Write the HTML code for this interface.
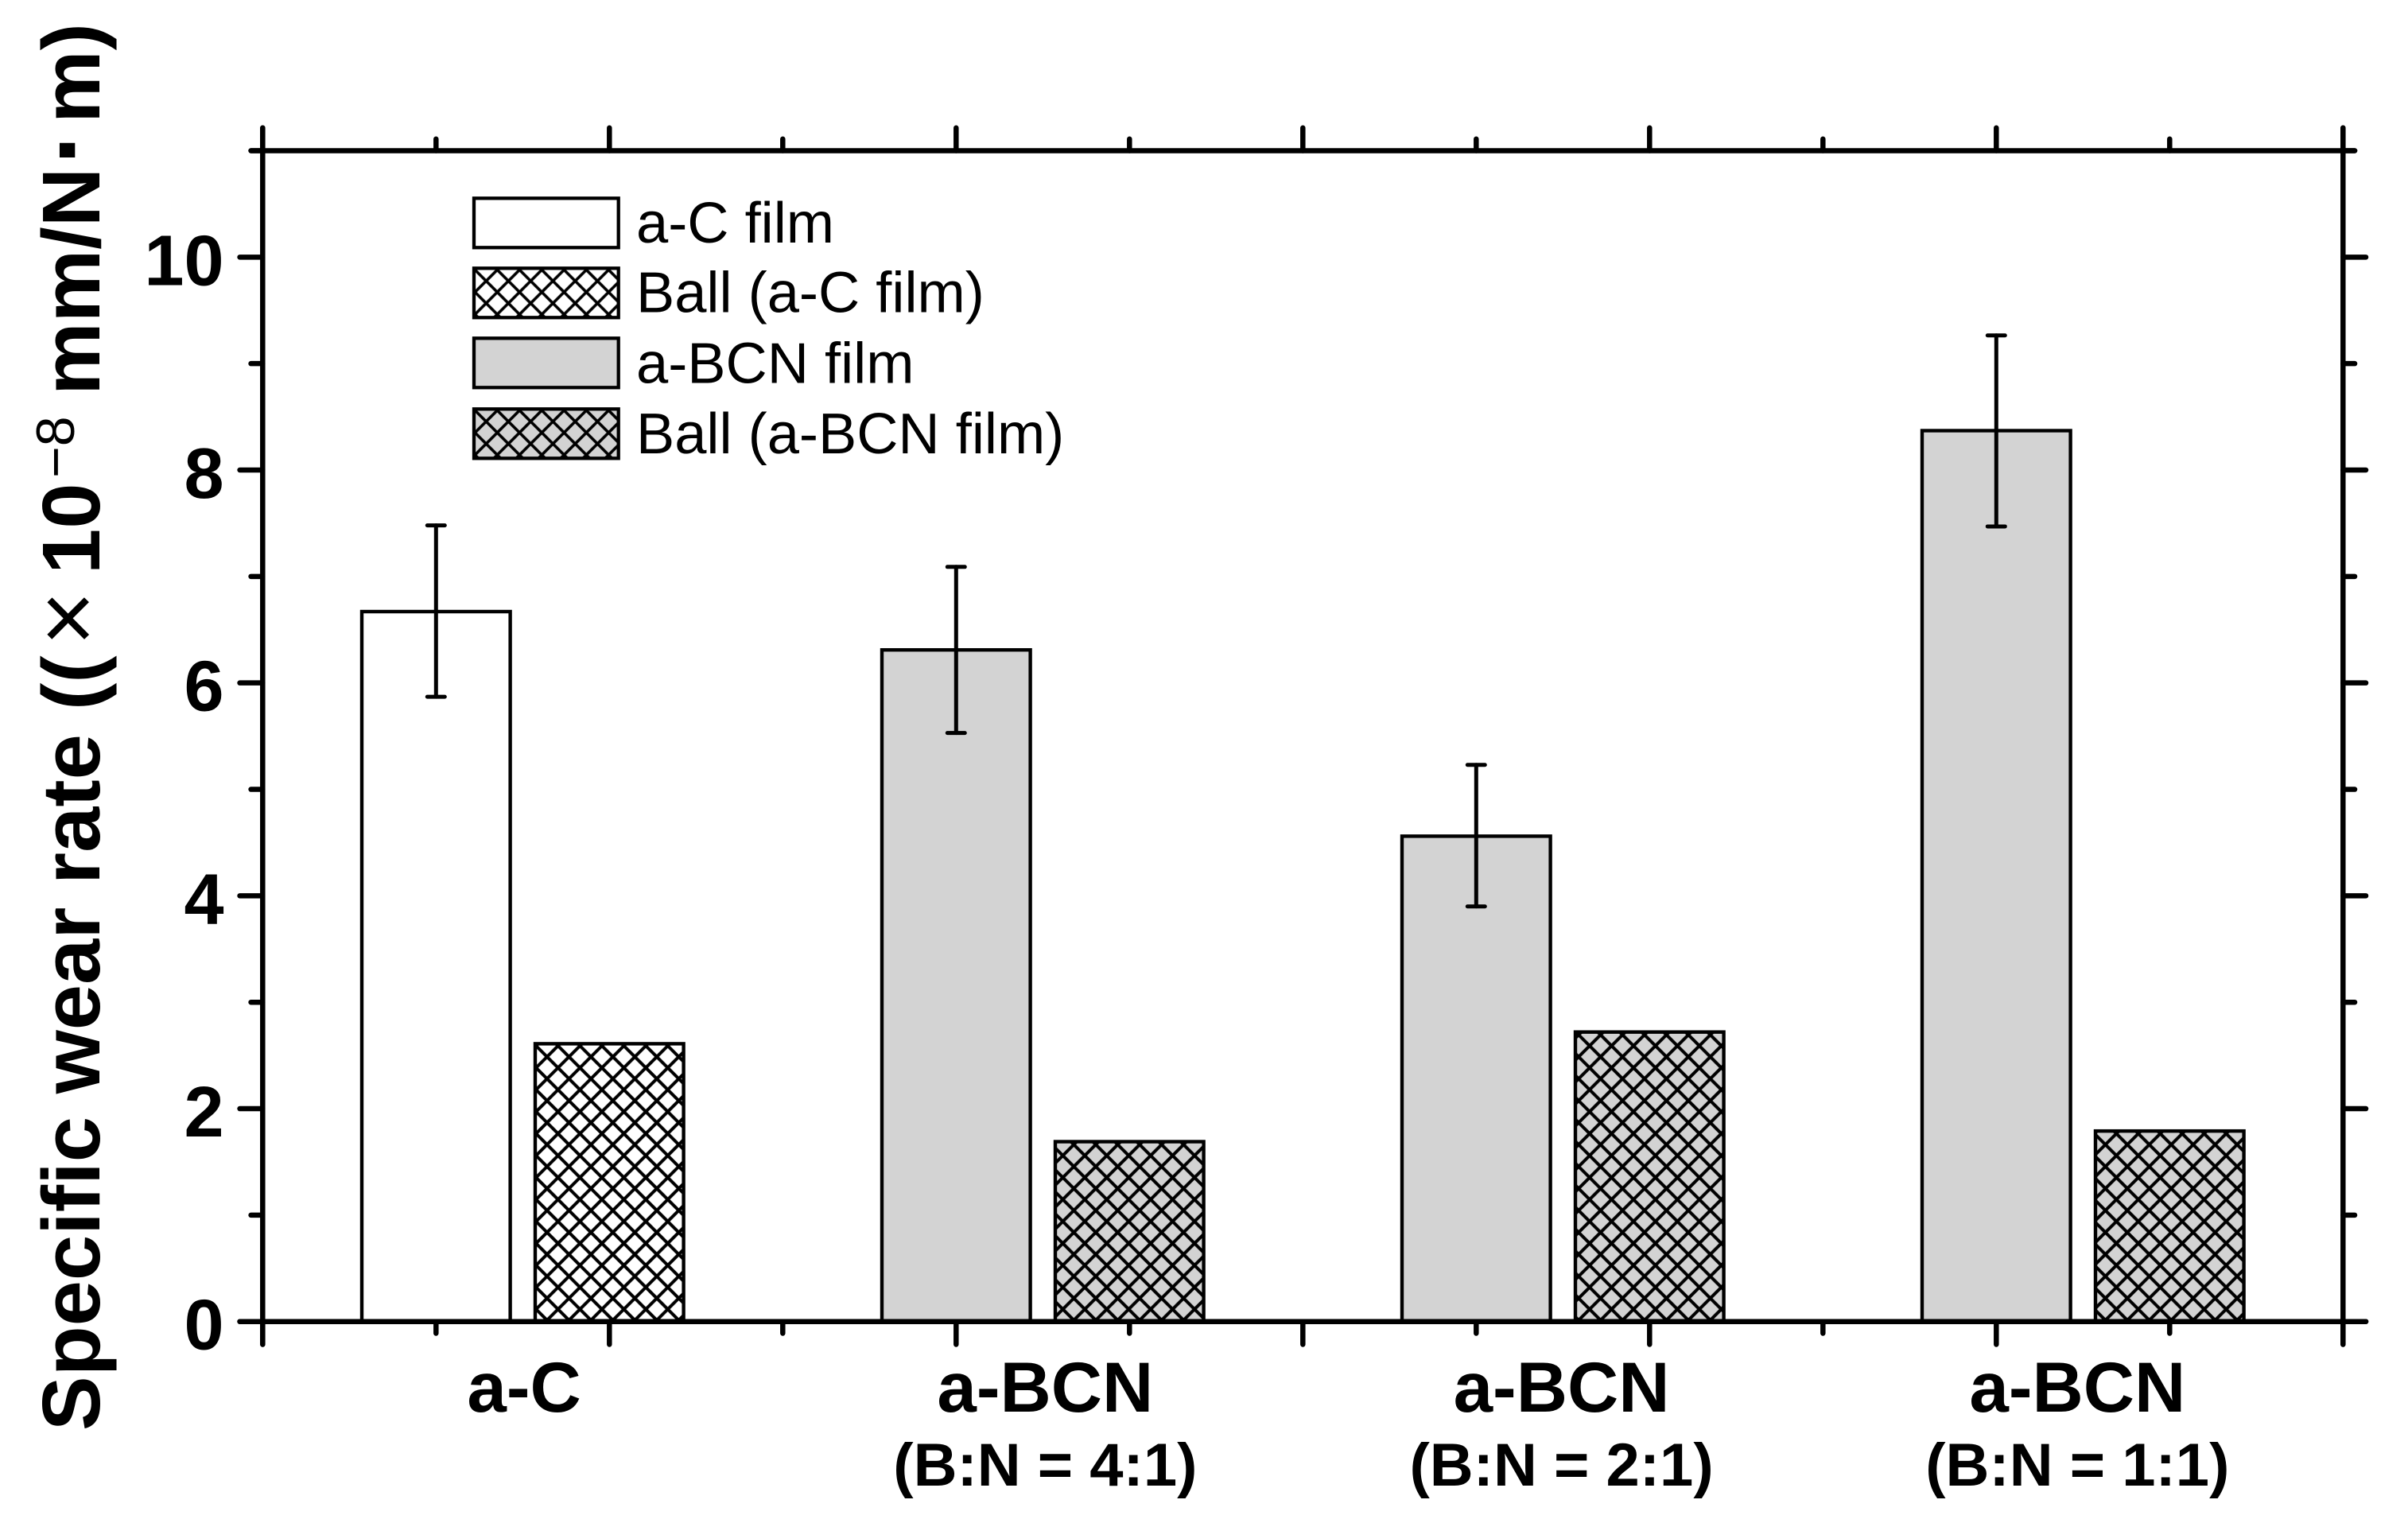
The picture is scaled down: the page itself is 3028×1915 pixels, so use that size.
<!DOCTYPE html>
<html lang="en">
<head>
<meta charset="utf-8">
<title>Specific wear rate</title>
<style>
html,body{margin:0;padding:0;background:#fff;}
svg{display:block;}
text{font-family:"Liberation Sans","Noto Sans CJK JP",sans-serif;fill:#000;}
</style>
</head>
<body>
<svg id="chart" xmlns="http://www.w3.org/2000/svg" width="3028" height="1915" viewBox="0 0 3028 1915">
  <defs>
    <pattern id="hatch-white" patternUnits="userSpaceOnUse" width="27.6" height="27.6" x="11.7" y="17.8">
      <rect width="27.6" height="27.6" fill="#fff"/>
      <path d="M-2 -2L29.6 29.6M-2 29.6L29.6 -2" stroke="#000" stroke-width="4" fill="none"/>
    </pattern>
    <pattern id="hatch-grey" patternUnits="userSpaceOnUse" width="27.6" height="27.6" x="11.7" y="17.8">
      <rect width="27.6" height="27.6" fill="#d3d3d3"/>
      <path d="M-2 -2L29.6 29.6M-2 29.6L29.6 -2" stroke="#000" stroke-width="4" fill="none"/>
    </pattern>
    <pattern id="legend-hatch-white" patternUnits="userSpaceOnUse" width="28" height="28" x="639.3" y="353.3">
      <rect width="28" height="28" fill="#fff"/>
      <path d="M-2 -2L30 30M-2 30L30 -2" stroke="#000" stroke-width="3.6" fill="none"/>
    </pattern>
    <pattern id="legend-hatch-grey" patternUnits="userSpaceOnUse" width="28" height="28" x="639.3" y="530">
      <rect width="28" height="28" fill="#d3d3d3"/>
      <path d="M-2 -2L30 30M-2 30L30 -2" stroke="#000" stroke-width="3.6" fill="none"/>
    </pattern>
  </defs>
  <rect width="3028" height="1915" fill="#fff"/>
  <g id="bars"></g>
  <g id="axes"></g>
  <g id="labels"></g>

  <g>
    <g>
      <rect x="596" y="249.3" width="181.7" height="62" fill="#fff" stroke="#000" stroke-width="4.3"/>
      <text x="800" y="305" font-size="72.3">a-C film</text>
    </g>
    <g>
      <rect x="596" y="337.3" width="181.7" height="62" fill="url(#legend-hatch-white)" stroke="#000" stroke-width="4.3"/>
      <text x="800" y="392.7" font-size="72.3">Ball (a-C film)</text>
    </g>
    <g>
      <rect x="596" y="425.3" width="181.7" height="62" fill="#d3d3d3" stroke="#000" stroke-width="4.3"/>
      <text x="800" y="481.7" font-size="72.3">a-BCN film</text>
    </g>
    <g>
      <rect x="596" y="514.3" width="181.7" height="62" fill="url(#legend-hatch-grey)" stroke="#000" stroke-width="4.3"/>
      <text x="800" y="570" font-size="72.3">Ball (a-BCN film)</text>
    </g>
  </g>

  <g transform="translate(125 0) rotate(-90)">
    <text font-size="103" font-weight="700" y="0">
      <tspan x="-1799" y="0">Specific wear rate</tspan>
      <tspan x="-893" y="0">((</tspan>
      <tspan x="-812" y="0" font-weight="400" font-size="118">×</tspan>
      <tspan x="-722" y="0">10</tspan>
      <tspan x="-601" y="-32" font-weight="400" font-size="68">−8</tspan>
      <tspan x="-497" y="0">mm/N</tspan>
      <tspan x="-207" y="3" font-size="130">·</tspan>
      <tspan x="-155" y="0">m)</tspan>
    </text>
  </g>
</svg>
<script>
const categoryLabels = ['a-C', 'a-BCN', 'a-BCN', 'a-BCN'];
const categorySubLabels = ['', '(B:N = 4:1)', '(B:N = 2:1)', '(B:N = 1:1)'];
const groupCenters = [0.75, 2.25, 3.75, 5.25];
const labelCenters = [0.754, 2.257, 3.746, 5.234];
const filmRate = [6.67, 6.31, 4.56, 8.37];
const filmErrorHigh = [7.48, 7.09, 5.23, 9.265];
const filmErrorLow = [5.87, 5.53, 3.90, 7.47];
const ballRate = [2.61, 1.69, 2.72, 1.79];
const yMajorTicks = [0, 2, 4, 6, 8, 10];
const yMinorTicks = [1, 3, 5, 7, 9, 11];
const xMajorTicks = [0, 1, 2, 3, 4, 5, 6];
const xMinorTicks = [0.5, 1.5, 2.5, 3.5, 4.5, 5.5];
const yTickLabels = ['0', '2', '4', '6', '8', '10'];

const NS = 'http://www.w3.org/2000/svg';
const X0 = 330.3, X1 = 2946.3, Y0 = 1661.7, Y1 = 189.5;
const X_MAX = 6, Y_MAX = 11;
const BAR_HALF = 0.214, BAR_OFFSET = 0.25;
function xScale(v) { return X0 + (X1 - X0) * v / X_MAX; }
function yScale(v) { return Y0 - (Y0 - Y1) * v / Y_MAX; }

const barsLayer = document.getElementById('bars');
const axesLayer = document.getElementById('axes');
const labelsLayer = document.getElementById('labels');

function drawLine(parent, x1, y1, x2, y2, width, name) {
  const el = document.createElementNS(NS, 'line');
  el.setAttribute('x1', x1);
  el.setAttribute('y1', y1);
  el.setAttribute('x2', x2);
  el.setAttribute('y2', y2);
  el.setAttribute('stroke', '#000');
  el.setAttribute('stroke-width', width);
  el.setAttribute('stroke-linecap', 'round');
  
  
  parent.appendChild(el);
  return el;
}

function drawBar(center, value, fill, name) {
  const el = document.createElementNS(NS, 'rect');
  const left = xScale(center - BAR_HALF);
  const right = xScale(center + BAR_HALF);
  el.setAttribute('x', left);
  el.setAttribute('y', yScale(value));
  el.setAttribute('width', right - left);
  el.setAttribute('height', yScale(0) - yScale(value));
  el.setAttribute('fill', fill);
  el.setAttribute('stroke', '#000');
  el.setAttribute('stroke-width', 4.4);
  
  
  barsLayer.appendChild(el);
}

function drawText(parent, x, y, str, size, anchor, name) {
  const el = document.createElementNS(NS, 'text');
  el.setAttribute('x', x);
  el.setAttribute('y', y);
  el.setAttribute('font-size', size);
  el.setAttribute('font-weight', '700');
  el.setAttribute('text-anchor', anchor);
  
  
  el.textContent = str;
  parent.appendChild(el);
}

groupCenters.forEach(function (center, i) {
  const filmX = center - BAR_OFFSET;
  const ballX = center + BAR_OFFSET;
  drawBar(filmX, filmRate[i], i === 0 ? '#fff' : '#d3d3d3', 'film-bar-' + (i + 1));
  drawBar(ballX, ballRate[i], i === 0 ? 'url(#hatch-white)' : 'url(#hatch-grey)', 'ball-bar-' + (i + 1));
  const ex = xScale(filmX);
  drawLine(barsLayer, ex, yScale(filmErrorHigh[i]), ex, yScale(filmErrorLow[i]), 5, 'error-bar-' + (i + 1));
  drawLine(barsLayer, ex - 11, yScale(filmErrorHigh[i]), ex + 11, yScale(filmErrorHigh[i]), 5, 'error-cap-high-' + (i + 1));
  drawLine(barsLayer, ex - 11, yScale(filmErrorLow[i]), ex + 11, yScale(filmErrorLow[i]), 5, 'error-cap-low-' + (i + 1));
  drawText(labelsLayer, xScale(labelCenters[i]), 1775, categoryLabels[i], 89, 'middle', 'x-category-label-' + (i + 1));
  if (categorySubLabels[i]) {
    drawText(labelsLayer, xScale(labelCenters[i]), 1868, categorySubLabels[i], 76, 'middle', 'x-category-sublabel-' + (i + 1));
  }
});

const AXIS_W = 6.5;
const MAJOR = 32 - AXIS_W / 2, MINOR = 18 - AXIS_W / 2;
drawLine(axesLayer, X0, Y1 - MAJOR, X0, Y0 + MAJOR, AXIS_W, 'left-axis');
drawLine(axesLayer, X1, Y1 - MAJOR, X1, Y0 + MAJOR, AXIS_W, 'right-axis');
drawLine(axesLayer, X0 - MINOR, Y1, X1 + MINOR, Y1, AXIS_W, 'top-axis');
drawLine(axesLayer, X0 - MAJOR, Y0, X1 + MAJOR, Y0, AXIS_W, 'bottom-axis');

yMajorTicks.forEach(function (v, i) {
  const y = yScale(v);
  drawLine(axesLayer, X0 - MAJOR, y, X0, y, AXIS_W, 'y-major-tick-left');
  drawLine(axesLayer, X1, y, X1 + MAJOR, y, AXIS_W, 'y-major-tick-right');
  drawText(labelsLayer, 281.5, y + 35, yTickLabels[i], 90, 'end', 'y-tick-label-' + yTickLabels[i]);
});
yMinorTicks.forEach(function (v) {
  const y = yScale(v);
  drawLine(axesLayer, X0 - MINOR, y, X0, y, AXIS_W, 'y-minor-tick-left');
  drawLine(axesLayer, X1, y, X1 + MINOR, y, AXIS_W, 'y-minor-tick-right');
});
xMajorTicks.forEach(function (v) {
  const x = xScale(v);
  drawLine(axesLayer, x, Y0, x, Y0 + MAJOR, AXIS_W, 'x-major-tick-bottom');
  drawLine(axesLayer, x, Y1 - MAJOR, x, Y1, AXIS_W, 'x-major-tick-top');
});
xMinorTicks.forEach(function (v) {
  const x = xScale(v);
  drawLine(axesLayer, x, Y0, x, Y0 + MINOR, AXIS_W, 'x-minor-tick-bottom');
  drawLine(axesLayer, x, Y1 - MINOR, x, Y1, AXIS_W, 'x-minor-tick-top');
});
</script>
</body>
</html>
